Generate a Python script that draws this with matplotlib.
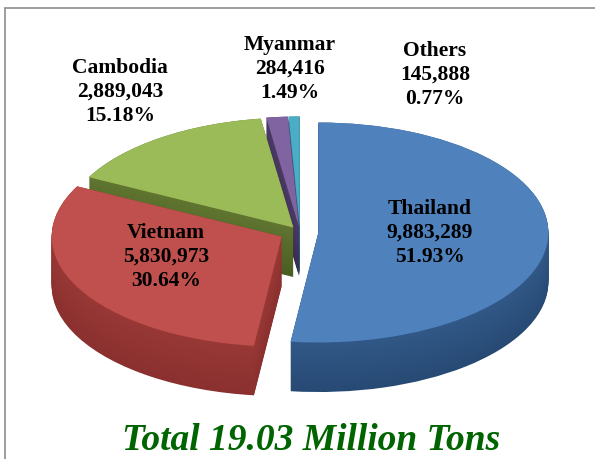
import numpy as np
import matplotlib.pyplot as plt
from matplotlib.patches import Rectangle
from matplotlib.colors import to_rgb

# rice export data
countries = ['Thailand', 'Vietnam', 'Cambodia', 'Myanmar', 'Others']
tons = [9883289, 5830973, 2889043, 284416, 145888]
shares = [51.93, 30.64, 15.18, 1.49, 0.77]
total_label = 'Total 19.03 Million Tons'

explode = [0.08, 0.09, 0.05, 0.05, 0.05]
top_colors = ['#4f81bd', '#c0504d', '#9bbb59', '#8064a2', '#4bacc6']
side_colors = ['#274a74', '#8a302e', '#4b5e22', '#3b2c52', '#1f5a6a']

fig = plt.figure(figsize=(5.95, 4.59), dpi=100)
ax = fig.add_axes([0, 0, 1, 1])

# 3d look: stack darker pies under the top one
depth = 0.45
n_layers = 50
for i, d in enumerate(np.linspace(depth, 0.0, n_layers)):
    k = 0.25 * i / (n_layers - 1)
    cols = [tuple((1 - k) * np.array(to_rgb(s)) + k * np.array(to_rgb(t)))
            for s, t in zip(side_colors, top_colors)]
    ax.pie(tons, explode=explode, colors=cols, startangle=90,
           counterclock=False, center=(0, -d),
           wedgeprops=dict(linewidth=0.6, edgecolor='none'))
ax.pie(tons, explode=explode, colors=top_colors, startangle=90,
       counterclock=False, wedgeprops=dict(linewidth=0))

ax.set_aspect('auto')
ax.set_xlim(-300 / 230, 295 / 230)
ax.set_ylim(-(459 - 232) / 110, 232 / 110)
ax.axis('off')

# labels (positions in pixels of the 595x459 image)
label_pos = [(430, 233), (166, 257), (120, 92), (290, 69), (435, 75)]
for name, t, s, (px, py) in zip(countries, tons, shares, label_pos):
    fig.text(px / 595, 1 - py / 459, '%s\n%s\n%.2f%%' % (name, format(t, ','), s),
             ha='center', va='center', family='Liberation Serif',
             weight='bold', fontsize=15.5, linespacing=1.25, color='black')

fig.text(311 / 595, 1 - 440 / 459, total_label, ha='center', va='center',
         family='Liberation Serif', weight='bold', style='italic',
         fontsize=27, color='#006400')

fig.add_artist(Rectangle((5 / 595, -0.05), 1.1, 1.05 - 8 / 459,
                         transform=fig.transFigure, fill=False,
                         edgecolor='#8c8c8c', linewidth=1.2))

fig.savefig('out.png', dpi=100)
